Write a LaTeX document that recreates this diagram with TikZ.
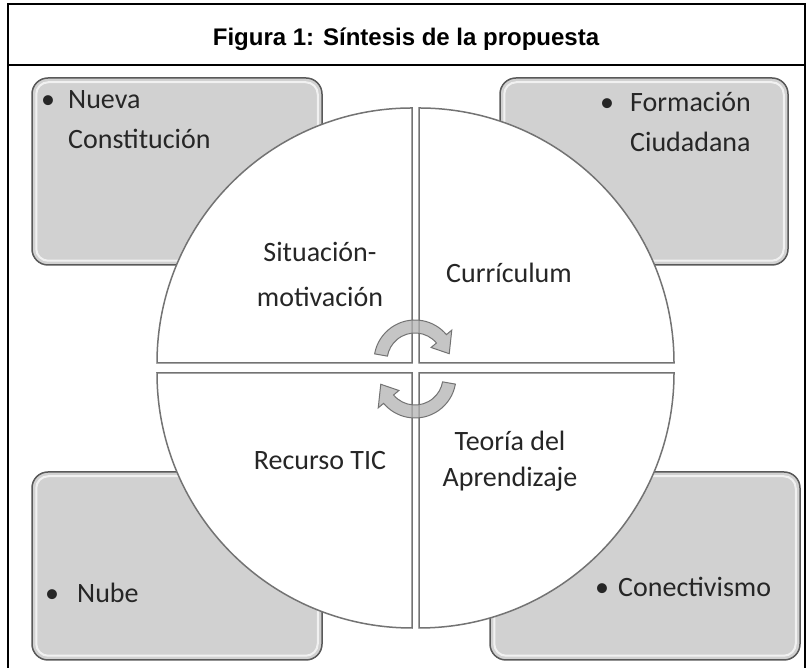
\documentclass[tikz,border=0pt]{standalone}
\usepackage{fontspec}
\setmainfont{Carlito}
\newfontfamily\headfont{Liberation Sans}
\usetikzlibrary{positioning,calc}
\tikzset{ItemBox/.style={%
    shape=rectangle,%
    rounded corners=16pt,%
    draw=black!65,%
    fill=black!18,%
    line width=1.5pt,%
    inner sep=0pt,%
}}
\tikzset{Bevel/.style={%
    draw=white,%
    rounded corners=12pt,%
    line width=2pt,%
    opacity=0.7,%
}}
\tikzset{Quarter/.style={%
    draw=black!55,%
    fill=white,%
    line width=1.5pt,%
}}
\tikzset{RotArrow/.style={%
    draw=black!55,%
    fill=black!30,%
    fill opacity=0.75,%
    line width=1pt,%
}}
\tikzset{ItemText/.style={%
    anchor=west,%
    inner sep=0pt,%
    align=left,%
    text=black!85,%
    font=\fontsize{28}{40}\selectfont,%
}}
\tikzset{PieText/.style={%
    inner sep=0pt,%
    align=center,%
    text=black!85,%
    font=\fontsize{28}{45}\selectfont,%
}}
\NewDocumentCommand{\itemBullet}{m}{\makebox[#1pt][l]{\textbullet}}

\begin{document}
\begin{tikzpicture}[x=1pt,y=1pt]
    \useasboundingbox (0,0) rectangle (808,668);

    % frame and title
    \draw[line width=2.5pt] (8,-5) -- (8,664) -- (805,664) -- (805,-5);
    \draw[line width=2.5pt] (8,603) -- (805,603);
    \node[anchor=base, font=\headfont\bfseries\fontsize{24}{28}\selectfont] (title) at (406,622) {Figura 1: Síntesis de la propuesta};

    % corner boxes
    \node[ItemBox, minimum width=290pt, minimum height=187pt] (nc) at (177,496.5) {};
    \node[ItemBox, minimum width=288pt, minimum height=187pt] (fc) at (644,496.5) {};
    \node[ItemBox, minimum width=290pt, minimum height=188pt] (nu) at (177,102) {};
    \node[ItemBox, minimum width=310pt, minimum height=188pt] (co) at (645,102) {};
    \foreach \b in {nc,fc,nu,co}
        \draw[Bevel] ($(\b.south west)+(5,5)$) rectangle ($(\b.north east)-(5,5)$);

    \node[ItemText] (tnc) at (41,548.5) {\itemBullet{27}Nueva\\\hspace*{27pt}Constitución};
    \node[ItemText] (tfc) at (600,546.5) {\itemBullet{30}Formación\\\hspace*{30pt}Ciudadana};
    \node[ItemText] (tnu) at (45,75) {\itemBullet{32}Nube};
    \node[ItemText] (tco) at (595,81) {\itemBullet{23}Conectivismo};

    % circle in four quarters
    \coordinate (qa) at (412,305);
    \coordinate (qb) at (419,305);
    \coordinate (qc) at (412,295);
    \coordinate (qd) at (419,295);
    \draw[Quarter] (qa) -- ++(-255,0) arc[start angle=180,end angle=90,radius=255] -- cycle;
    \draw[Quarter] (qb) -- ++(0,255) arc[start angle=90,end angle=0,radius=255] -- cycle;
    \draw[Quarter] (qd) -- ++(255,0) arc[start angle=0,end angle=-90,radius=255] -- cycle;
    \draw[Quarter] (qc) -- ++(0,-255) arc[start angle=270,end angle=180,radius=255] -- cycle;

    % turning arrows
    \draw[RotArrow, shift={(415,307)}] (170:41) arc[start angle=170,end angle=40,radius=41]
        -- (40:48) -- (12:35) -- (40:21) -- (40:28) arc[start angle=40,end angle=170,radius=28] -- cycle;
    \draw[RotArrow, shift={(415,291)}] (-10:41) arc[start angle=-10,end angle=-140,radius=41]
        -- (-140:48) -- (-168:35) -- (-140:21) -- (-140:28) arc[start angle=-140,end angle=-10,radius=28] -- cycle;

    \node[PieText] (sm) at (320,393.5) {Situación-\\motivación};
    \node[PieText] (cu) at (509,395) {Currículum};
    \node[PieText] (rt) at (320,207) {Recurso TIC};
    \node[PieText, font=\fontsize{28}{36}\selectfont] (ta) at (510,207) {Teoría del\\Aprendizaje};
\end{tikzpicture}
\end{document}
